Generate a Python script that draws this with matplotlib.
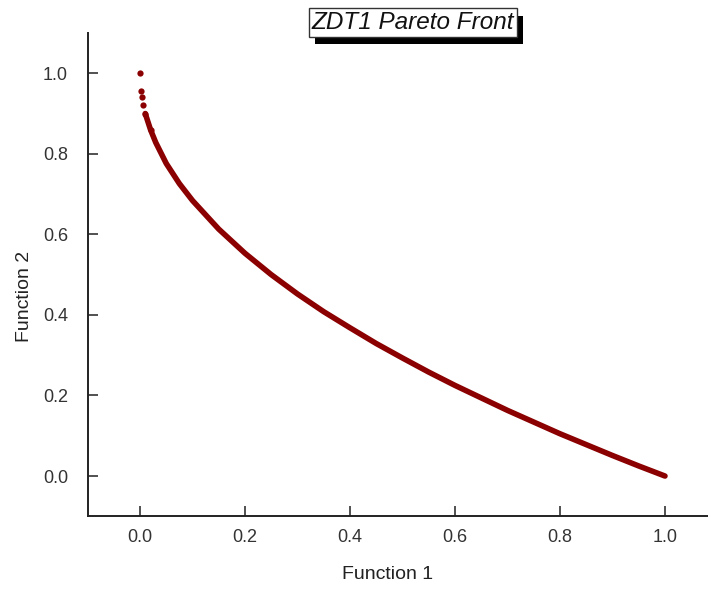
import numpy as np
import matplotlib.pyplot as plt
import matplotlib.patheffects as pe

f1 = [0.0, 0.002, 0.004, 0.006, 0.01, 0.02, 0.03, 0.05, 0.075, 0.1, 0.15, 0.2,
      0.25, 0.3, 0.35, 0.4, 0.45, 0.5, 0.55, 0.6, 0.65, 0.7, 0.75, 0.8,
      0.85, 0.9, 0.95, 1.0]
f2 = [1.0, 0.955, 0.94, 0.922, 0.90, 0.86, 0.828, 0.776, 0.726, 0.684, 0.613, 0.553,
      0.50, 0.452, 0.408, 0.368, 0.329, 0.293, 0.258, 0.225, 0.194, 0.163, 0.134, 0.105,
      0.078, 0.051, 0.025, 0.0]
x_ticks = [0.0, 0.2, 0.4, 0.6, 0.8, 1.0]
y_ticks = [0.0, 0.2, 0.4, 0.6, 0.8, 1.0]

plt.rcParams['font.family'] = ['Liberation Sans', 'DejaVu Sans']
red = '#8b0000'

fig = plt.figure(figsize=(7.08, 5.89), dpi=100)
ax = fig.add_axes([0.1236, 0.1234, 0.8898, 0.8206])

# dense part drawn as a thick line, the sparse top as single dots
ax.plot(f1[4:], f2[4:], color=red, lw=4.0, solid_capstyle='round', zorder=2)
ax.plot(f1[:6], f2[:6], 'o', color=red, ms=4.5, mec='none', zorder=3)

ax.set_xlim(-0.1, 1.1)
ax.set_ylim(-0.1, 1.1)
ax.set_xticks(x_ticks)
ax.set_yticks(y_ticks)
ax.set_xticklabels(['%.1f' % t for t in x_ticks])
ax.set_yticklabels(['%.1f' % t for t in y_ticks])
ax.tick_params(direction='in', length=7, width=1.2, labelsize=13, colors='#333333')
ax.tick_params(axis='y', pad=14)
ax.tick_params(axis='x', pad=9)
for s in ['top', 'right']:
    ax.spines[s].set_visible(False)
for s in ['left', 'bottom']:
    ax.spines[s].set_linewidth(1.4)
    ax.spines[s].set_color('#222222')

fig.text(0.547, 0.025, 'Function 1', ha='center', va='center', fontsize=14, color='#222222')
fig.text(0.035, 0.497, 'Function 2', ha='center', va='center', rotation=90, fontsize=14, color='#222222')

# title box with a drop shadow
t = fig.text(0.583, 0.962, 'ZDT1 Pareto Front', ha='center', va='center',
             fontsize=17.5, style='italic', color='#111111',
             bbox=dict(boxstyle='square,pad=0.12', fc='white', ec='#333333', lw=1))
t.get_bbox_patch().set_path_effects([
    pe.SimplePatchShadow(offset=(4.5, -5.5), shadow_rgbFace='black', alpha=1.0),
    pe.Normal()])

fig.savefig('out.png', dpi=100)
